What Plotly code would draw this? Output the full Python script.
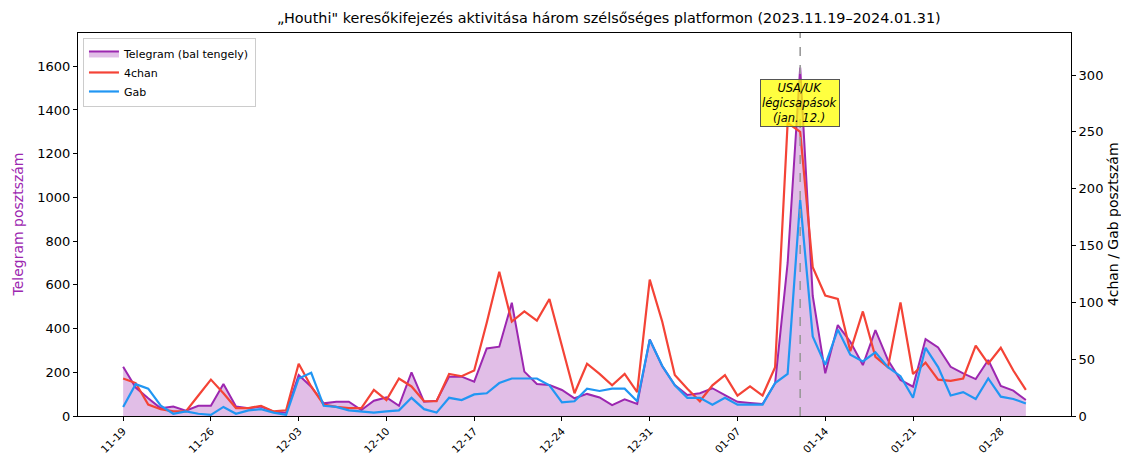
import pandas as pd
import plotly.graph_objects as go

dates = pd.date_range("2023-11-19", "2024-01-30", freq="D")

telegram = [225, 130, 81, 35, 43, 24, 47, 47, 146, 43, 35, 43, 20, 15,
            187, 134, 58, 65, 65, 27, 70, 85, 47, 200, 65, 70, 180, 180,
            157, 309, 317, 518, 203, 146, 142, 119, 81, 101, 85, 50, 76, 55,
            350, 228, 142, 96, 104, 127, 96, 65, 60, 55, 150, 700, 1594, 550,
            195, 416, 340, 233, 393, 256, 165, 134, 352, 314, 225, 195, 169,
            256, 137, 116, 73]

chan4 = [33, 29, 10, 6, 4, 4, 18, 32, 20, 7, 7, 9, 4, 5,
         46, 26, 10, 8, 7, 7, 23, 14, 33, 26, 13, 13, 37, 35,
         40, 82, 127, 83, 92, 84, 103, 61, 20, 46, 37, 27, 37, 21,
         120, 83, 36, 24, 13, 27, 36, 18, 26, 18, 43, 258, 250, 131,
         106, 103, 57, 92, 52, 43, 100, 37, 47, 32, 31, 33, 62,
         46, 60, 40, 23]

gab = [8, 28, 24, 9, 2, 4, 2, 1, 8, 2, 5, 6, 3, 1,
       33, 38, 9, 8, 5, 4, 3, 4, 5, 16, 6, 3, 16, 14,
       19, 20, 29, 33, 33, 33, 27, 12, 13, 24, 22, 24, 24, 13,
       67, 44, 27, 16, 16, 10, 16, 10, 10, 10, 29, 37, 190, 70,
       45, 76, 54, 48, 56, 43, 35, 16, 60, 43, 18, 21, 15,
       33, 17, 15, 11]

tick_dates = pd.date_range("2023-11-19", "2024-01-28", freq="7D")
tick_labels = [d.strftime("%m-%d") for d in tick_dates]
left_ticks = list(range(0, 1601, 200))
right_ticks = list(range(0, 301, 50))
event_date = "2024-01-12"

FONT = "DejaVu Sans"

fig = go.Figure()
fig.add_trace(go.Scatter(
    x=dates, y=telegram, name="Telegram (bal tengely)", mode="lines",
    fill="tozeroy", fillcolor="rgba(156,39,176,0.3)",
    line=dict(color="#9C27B0", width=2), yaxis="y"))
fig.add_trace(go.Scatter(
    x=dates, y=chan4, name="4chan", mode="lines",
    line=dict(color="#F44336", width=2.2), yaxis="y2"))
fig.add_trace(go.Scatter(
    x=dates, y=gab, name="Gab", mode="lines",
    line=dict(color="#2196F3", width=2.2), yaxis="y2"))

fig.add_shape(type="line", x0=event_date, x1=event_date, xref="x",
              y0=0, y1=1, yref="paper",
              line=dict(color="#999999", width=1.6, dash="dash"))

fig.add_annotation(x=event_date, xref="x", y=0.817, yref="paper",
                   xanchor="center", yanchor="middle",
                   text="<i>USA/UK<br>légicsapások<br>(jan. 12.)</i>",
                   showarrow=False, font=dict(family=FONT, size=11.5, color="black"),
                   bgcolor="rgba(255,255,0,0.75)", bordercolor="#555555",
                   borderwidth=1, borderpad=1, align="center")

fig.add_annotation(x=-0.0614, xref="paper", y=0.5, yref="paper",
                   xanchor="center", yanchor="middle",
                   text="Telegram posztszám", textangle=-90, showarrow=False,
                   font=dict(family=FONT, size=14, color="#9C27B0"))
fig.add_annotation(x=1.042, xref="paper", y=0.5, yref="paper",
                   xanchor="center", yanchor="middle",
                   text="4chan / Gab posztszám", textangle=-90, showarrow=False,
                   font=dict(family=FONT, size=14, color="black"))

fig.update_layout(
    width=1121, height=448,
    margin=dict(l=70, r=58, t=25, b=40, autoexpand=False),
    paper_bgcolor="white", plot_bgcolor="white",
    font=dict(family=FONT, size=13, color="black"),
    title=dict(text="„Houthi\" keresőkifejezés aktivitása három szélsőséges platformon (2023.11.19–2024.01.31)",
               x=0.536, xref="container", xanchor="center",
               y=0.978, yref="container", yanchor="middle",
               font=dict(family=FONT, size=14.4, color="black")),
    xaxis=dict(type="date", automargin=False,
               range=["2023-11-15 09:36", "2024-02-02 14:24"],
               tickvals=tick_dates, ticktext=tick_labels, tickangle=-45,
               ticks="outside", ticklen=4, tickcolor="black",
               showline=True, linecolor="black", linewidth=1, mirror=True,
               showgrid=False, zeroline=False,
               tickfont=dict(family=FONT, size=10.5)),
    yaxis=dict(range=[0, 1752], tickvals=left_ticks, automargin=False,
               ticks="outside", ticklen=4, tickcolor="black",
               showline=True, linecolor="black", linewidth=1, mirror=True,
               showgrid=False, zeroline=False,
               tickfont=dict(family=FONT, size=13)),
    yaxis2=dict(range=[0, 337], tickvals=right_ticks, overlaying="y", side="right",
                automargin=False,
                ticks="outside", ticklen=4, tickcolor="black",
                showline=True, linecolor="black", linewidth=1,
                showgrid=False, zeroline=False,
                tickfont=dict(family=FONT, size=13)),
    legend=dict(x=0.005, y=0.987, xanchor="left", yanchor="top",
                bgcolor="rgba(255,255,255,0.85)", bordercolor="#cccccc",
                borderwidth=1, font=dict(family=FONT, size=11),
                tracegroupgap=0, itemwidth=30),
    showlegend=True,
)

fig.write_html("out.html")
